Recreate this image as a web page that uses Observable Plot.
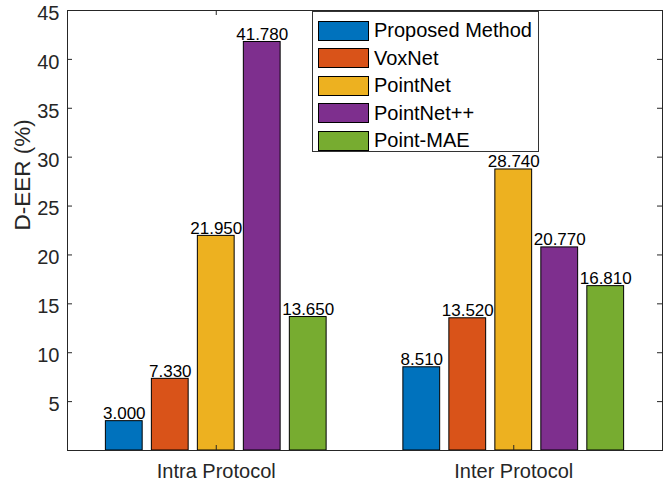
<!DOCTYPE html>
<html>
<head>
<meta charset="utf-8">
<script src="https://cdn.jsdelivr.net/npm/d3@7"></script>
<script src="https://cdn.jsdelivr.net/npm/@observablehq/plot@0.6"></script>
<style>
  body { margin: 0; background: #fff; }
  #wrap { position: relative; width: 664px; height: 484px; font-family: "Liberation Sans", Arial, sans-serif; }
  #legend { position: absolute; left: 312px; top: 11px; width: 227px; height: 141px; border: 1px solid #333; background: #fff; box-sizing: border-box; padding: 5px 0 0 5px; }
  .item { display: flex; align-items: center; height: 27.5px; font-size: 20px; color: #000; }
  .sw { width: 51px; height: 20px; border: 1px solid #000; box-sizing: border-box; margin-right: 5px; }
</style>
</head>
<body>
<div id="wrap"></div>
<script>
const groups = ["Intra Protocol", "Inter Protocol"];
const series = ["Proposed Method", "VoxNet", "PointNet", "PointNet++", "Point-MAE"];
const colors = ["#0072BD", "#D95319", "#EDB120", "#7E2F8E", "#77AC30"];
const intraValues = [3.000, 7.330, 21.950, 41.780, 13.650];
const interValues = [8.510, 13.520, 28.740, 20.770, 16.810];
const yTicks = [5, 10, 15, 20, 25, 30, 35, 40, 45];

const W = 664, H = 484, mL = 67, mR = 2, mT = 10, mB = 34;
const plotW = W - mL - mR, plotH = H - mT - mB;

// offsets of bars inside a group (data units), via a d3 band scale
const band = d3.scaleBand().domain(series).range([-0.371, 0.371]).paddingInner(0.2);

const data = [];
[intraValues, interValues].forEach((vals, gi) => {
  vals.forEach((v, si) => {
    const g = gi + 1;
    const x1 = g + band(series[si]);
    data.push({group: groups[gi], series: series[si], value: v, x1, x2: x1 + band.bandwidth(), xc: x1 + band.bandwidth() / 2});
  });
});

const chart = Plot.plot({
  width: W, height: H,
  marginLeft: mL, marginRight: mR, marginTop: mT, marginBottom: mB,
  style: {fontFamily: "'Liberation Sans', Arial, sans-serif", fontSize: "20px", color: "#262626", background: "white"},
  x: {type: "linear", domain: [0.5, 2.5], axis: null, label: null},
  y: {domain: [0, 45], axis: null, label: null},
  color: {domain: series, range: colors},
  marks: [
    Plot.rectY(data, {x1: "x1", x2: "x2", y1: 0, y2: "value", fill: "series", stroke: "black", strokeWidth: 1}),
    Plot.text(data, {x: "xc", y: "value", text: d => d.value.toFixed(3), lineAnchor: "bottom", dy: -2, fontSize: 17, fill: "black"}),
    Plot.tickY(yTicks, {y: d => d, stroke: "#262626", insetRight: plotW - 5}),
    Plot.tickY(yTicks, {y: d => d, stroke: "#262626", insetLeft: plotW - 5}),
    Plot.tickX([1, 2], {x: d => d, stroke: "#262626", insetTop: plotH - 5}),
    Plot.tickX([1, 2], {x: d => d, stroke: "#262626", insetBottom: plotH - 5}),
    Plot.axisY(yTicks, {tickSize: 0, tickPadding: 8, dy: 3, fill: "#262626", fontSize: 20, label: null}),
    Plot.axisX([1, 2], {tickSize: 0, tickPadding: 13, tickFormat: d => groups[d - 1], fill: "#262626", fontSize: 20, label: null}),
    Plot.text(["D-EER (%)"], {frameAnchor: "left", text: d => d, rotate: -90, dx: -45, fontSize: 22.5, fill: "#262626"}),
    Plot.frame({stroke: "#262626", strokeWidth: 1})
  ]
});

const wrap = document.getElementById("wrap");
wrap.appendChild(chart);

const legend = document.createElement("div");
legend.id = "legend";
series.forEach((s, i) => {
  const item = document.createElement("div");
  item.className = "item";
  const sw = document.createElement("div");
  sw.className = "sw";
  sw.style.background = colors[i];
  const lab = document.createElement("span");
  lab.textContent = s;
  item.appendChild(sw);
  item.appendChild(lab);
  legend.appendChild(item);
});
wrap.appendChild(legend);
</script>
</body>
</html>
